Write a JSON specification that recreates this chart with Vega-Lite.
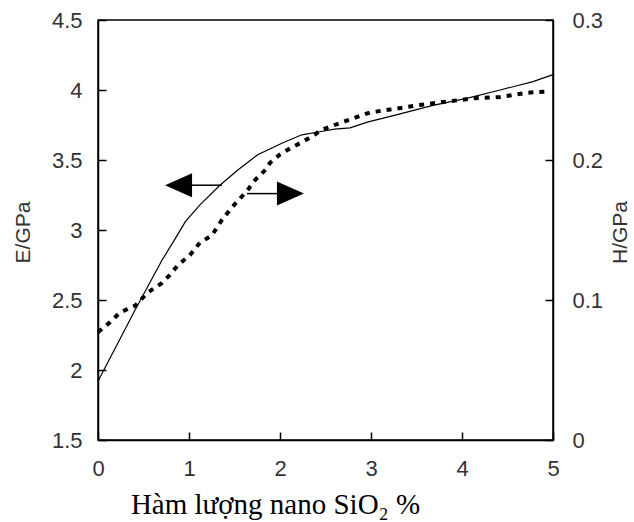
{
  "$schema": "https://vega.github.io/schema/vega-lite/v6.json",
  "width": 455,
  "height": 420,
  "autosize": {"type": "none"},
  "padding": {"left": 98, "top": 20, "right": 81, "bottom": 82},
  "background": "white",
  "config": {
    "view": {"stroke": "black", "strokeWidth": 1.5},
    "axis": {
      "grid": false,
      "domainColor": "black",
      "domainWidth": 1.5,
      "tickColor": "black",
      "tickWidth": 1.5,
      "tickSize": -8,
      "labelFont": "Liberation Sans",
      "labelFontSize": 22,
      "labelColor": "#333333",
      "labelFlush": false,
      "labelOverlap": false,
      "titleFont": "Liberation Sans",
      "titleFontSize": 21,
      "titleFontWeight": "normal",
      "titleColor": "#333333"
    }
  },
  "datasets": {
    "E": [
      {"x": 0, "E": 1.92}, {"x": 0.2, "E": 2.17}, {"x": 0.4, "E": 2.42}, {"x": 0.55, "E": 2.6},
      {"x": 0.7, "E": 2.78}, {"x": 0.85, "E": 2.94}, {"x": 0.96, "E": 3.06}, {"x": 1.12, "E": 3.18},
      {"x": 1.34, "E": 3.32}, {"x": 1.54, "E": 3.43}, {"x": 1.76, "E": 3.54}, {"x": 2.02, "E": 3.62},
      {"x": 2.24, "E": 3.68}, {"x": 2.42, "E": 3.7}, {"x": 2.6, "E": 3.72}, {"x": 2.77, "E": 3.73},
      {"x": 2.96, "E": 3.77}, {"x": 3.32, "E": 3.83}, {"x": 3.68, "E": 3.89}, {"x": 4.05, "E": 3.94},
      {"x": 4.42, "E": 4.0}, {"x": 4.78, "E": 4.06}, {"x": 5.0, "E": 4.11}
    ],
    "H": [
      {"x": 0, "H": 0.077}, {"x": 0.13, "H": 0.084}, {"x": 0.24, "H": 0.091}, {"x": 0.41, "H": 0.096},
      {"x": 0.54, "H": 0.105}, {"x": 0.7, "H": 0.112}, {"x": 0.79, "H": 0.118}, {"x": 0.88, "H": 0.125},
      {"x": 1.01, "H": 0.132}, {"x": 1.12, "H": 0.141}, {"x": 1.25, "H": 0.146}, {"x": 1.36, "H": 0.157},
      {"x": 1.47, "H": 0.166}, {"x": 1.54, "H": 0.171}, {"x": 1.65, "H": 0.179}, {"x": 1.73, "H": 0.186},
      {"x": 1.84, "H": 0.193}, {"x": 1.89, "H": 0.198}, {"x": 2.0, "H": 0.204}, {"x": 2.13, "H": 0.209},
      {"x": 2.25, "H": 0.213}, {"x": 2.38, "H": 0.218}, {"x": 2.44, "H": 0.221}, {"x": 2.6, "H": 0.225},
      {"x": 2.77, "H": 0.229}, {"x": 2.99, "H": 0.234}, {"x": 3.21, "H": 0.236}, {"x": 3.5, "H": 0.239},
      {"x": 3.87, "H": 0.242}, {"x": 4.12, "H": 0.244}, {"x": 4.42, "H": 0.245}, {"x": 4.71, "H": 0.248},
      {"x": 4.95, "H": 0.249}
    ],
    "arrows": [
      {"x": 1.033, "x2": 1.363, "E": 3.32},
      {"x": 1.637, "x2": 1.978, "E": 3.26}
    ],
    "heads": [
      {"x": 0.885, "E": 3.32, "dir": "left"},
      {"x": 2.115, "E": 3.26, "dir": "right"}
    ]
  },
  "encoding": {
    "x": {
      "field": "x",
      "type": "quantitative",
      "scale": {"domain": [0, 5], "nice": false, "zero": false},
      "axis": {
        "title": "Hàm lượng nano SiO₂ %",
        "titleFont": "Liberation Serif",
        "titleFontSize": 29,
        "titleColor": "black",
        "titleX": 177,
        "titleY": 73,
        "titleAlign": "center",
        "titleBaseline": "alphabetic",
        "values": [0, 1, 2, 3, 4, 5],
        "format": "~g",
        "labelPadding": 26
      }
    }
  },
  "layer": [
    {
      "encoding": {
        "y": {
          "field": "E",
          "type": "quantitative",
          "scale": {"domain": [1.5, 4.5], "nice": false, "zero": false},
          "axis": {
            "orient": "left",
            "title": "E/GPa",
            "values": [1.5, 2, 2.5, 3, 3.5, 4, 4.5],
            "format": "~g",
            "labelPadding": 24,
            "titleAngle": -90,
            "titleX": -75,
            "titleY": 212,
            "titleAlign": "center",
            "titleBaseline": "middle"
          }
        }
      },
      "layer": [
        {
          "data": {"name": "E"},
          "mark": {"type": "line", "color": "black", "strokeWidth": 1.2}
        },
        {
          "data": {"name": "arrows"},
          "mark": {"type": "rule", "color": "black", "strokeWidth": 1.5},
          "encoding": {"x2": {"field": "x2"}}
        },
        {
          "data": {"name": "heads"},
          "mark": {"type": "point", "filled": true, "color": "black", "opacity": 1, "size": 729, "strokeWidth": 0},
          "encoding": {
            "shape": {
              "field": "dir",
              "type": "nominal",
              "scale": {"domain": ["left", "right"], "range": ["M-1,0L1,-0.89L1,0.89Z", "M1,0L-1,-0.89L-1,0.89Z"]},
              "legend": null
            }
          }
        }
      ]
    },
    {
      "data": {"name": "H"},
      "mark": {"type": "line", "color": "black", "strokeWidth": 4, "strokeDash": [5, 6]},
      "encoding": {
        "y": {
          "field": "H",
          "type": "quantitative",
          "scale": {"domain": [0, 0.3], "nice": false, "zero": false},
          "axis": {
            "orient": "right",
            "title": "H/GPa",
            "values": [0, 0.1, 0.2, 0.3],
            "format": "~g",
            "labelPadding": 27,
            "titleAngle": -90,
            "titleX": 67,
            "titleY": 212,
            "titleAlign": "center",
            "titleBaseline": "middle"
          }
        }
      }
    }
  ],
  "resolve": {"scale": {"y": "independent"}}
}
